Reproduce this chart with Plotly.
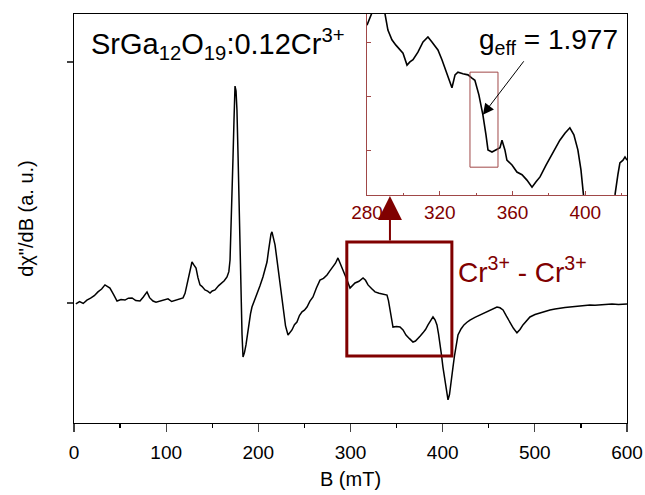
import plotly.graph_objects as go

# ---- main EPR spectrum (B in mT, derivative signal in a.u.) ----
field_mT = [2, 6, 10, 14, 18, 22, 26, 30, 33.6, 36, 39, 43, 46.7, 51, 55.3, 59, 63, 67, 71.6, 75, 79.2, 82,
            85.7, 89, 93.3, 97, 102, 106, 110.7, 114, 118.3, 120.5, 122.6, 125, 128, 130, 132.4, 134.5, 136.7,
            139, 142.1, 145, 147.6, 150, 153, 157, 160.6, 163, 166, 168, 169.3, 170.4, 171.4, 172.5, 173.6,
            174.7, 175.8, 176.8, 178, 179, 180.1, 181.2, 182.3, 183.4, 185, 186.6, 188.3, 189.9, 191.5, 193.1,
            195.8, 198.5, 201.7, 205, 207.2, 209.4, 211, 212.6, 213.7, 214.8, 216.4, 218.1, 220.2, 222.4,
            224.6, 226.8, 229.5, 232.2, 234.3, 236.5, 239.2, 241.9, 244.6, 247.4, 250, 252.8, 256, 259.3,
            263, 266.9, 270.7, 274.5, 277.8, 281, 283.7, 286.4, 288.6, 290.8, 293.5, 296.2, 299.5, 302.2,
            304.9, 309.2, 313.6, 316.3, 319, 322.8, 326.6, 331, 335.3, 337.5, 339.6, 341.2, 342.8, 344.4,
            346.1, 349.9, 353.7, 357, 360.2, 364, 367.8, 370.5, 373.2, 375.9, 378.6, 381.4, 384.1, 386.8,
            389.5, 391.7, 393.8, 395.5, 397.1, 398.7, 400.3, 402, 403.6, 404.7, 405.8, 407.4, 409, 410.1,
            411.2, 412.8, 414.4, 415.5, 416.6, 419.9, 423.1, 426.4, 429.6, 435, 440.5, 445.9, 451.3, 455.1,
            458.9, 462.2, 465.5, 469.2, 473, 476.8, 480.6, 483.9, 487.1, 490.9, 494.7, 500.2, 505.6, 511,
            516.4, 521.9, 527.3, 532.7, 538.1, 543.6, 549, 554.4, 559.8, 565.3, 570.7, 577.2, 583.7, 590.8,
            597.8, 600]
signal = [-0.004, 0.006, -0.002, 0.012, 0.020, 0.030, 0.046, 0.058, 0.075, 0.068, 0.062, 0.035, 0.008, 0.014,
          0.012, 0.020, 0.021, 0.010, 0.008, 0.024, 0.046, 0.022, 0.008, 0.003, 0.008, 0.012, 0.017, 0.006,
          0.012, 0.018, 0.021, 0.040, 0.075, 0.120, 0.170, 0.158, 0.145, 0.105, 0.075, 0.068, 0.054, 0.049,
          0.041, 0.050, 0.054, 0.072, 0.083, 0.092, 0.108, 0.130, 0.178, 0.300, 0.427, 0.600, 0.759, 0.900,
          0.880, 0.801, 0.610, 0.427, 0.200, 0.012, -0.130, -0.224, -0.205, -0.174, -0.125, -0.079, -0.045,
          -0.017, 0.010, 0.033, 0.070, 0.108, 0.140, 0.170, 0.215, 0.261, 0.285, 0.295, 0.272, 0.241, 0.180,
          0.116, 0.040, -0.029, -0.095, -0.133, -0.124, -0.112, -0.090, -0.079, -0.052, -0.037, -0.030,
          -0.017, 0.008, 0.025, 0.062, 0.095, 0.102, 0.116, 0.134, 0.149, 0.165, 0.187, 0.168, 0.145, 0.120,
          0.095, 0.062, 0.074, 0.083, 0.090, 0.104, 0.094, 0.075, 0.060, 0.046, 0.040, 0.037, 0.036, 0.033,
          0.010, -0.029, -0.070, -0.100, -0.098, -0.100, -0.112, -0.133, -0.148, -0.162, -0.158, -0.145,
          -0.136, -0.124, -0.110, -0.091, -0.075, -0.058, -0.070, -0.091, -0.128, -0.166, -0.215, -0.266,
          -0.315, -0.361, -0.385, -0.402, -0.380, -0.340, -0.305, -0.266, -0.220, -0.174, -0.150, -0.133,
          -0.108, -0.091, -0.080, -0.071, -0.060, -0.050, -0.040, -0.029, -0.022, -0.017, -0.020, -0.029,
          -0.055, -0.083, -0.105, -0.124, -0.110, -0.091, -0.072, -0.058, -0.048, -0.041, -0.033, -0.029,
          -0.025, -0.021, -0.019, -0.017, -0.014, -0.012, -0.010, -0.008, -0.009, -0.008, -0.005, -0.004,
          -0.006, -0.004, -0.004]

# ---- inset: zoom of 280-423 mT ----
inset_field_mT = [280, 281.6, 282.7, 284.4, 287.1, 289.9, 291.5, 293.7, 295.9, 298.1, 299.8, 302, 303.6,
                  305.3, 308, 310.8, 313.5, 315.7, 319, 321.2, 324, 326.7, 328.4, 330, 332.7, 335.5, 337.7,
                  339.3, 341.5, 343.7, 345.4, 346.5, 348.7, 350.9, 353.1, 354.2, 355.8, 356.9, 359.7, 362.4,
                  365.2, 367.9, 370.7, 372.9, 375.1, 378.4, 382.2, 386, 388.8, 391.5, 393.7, 395.9, 397.6,
                  398.7, 399.8, 405.3, 410.8, 414.6, 416.3, 417.9, 419, 420.7, 421.8, 422.9]
inset_signal = [3.33, 3.46, 3.57, 3.70, 3.80, 3.54, 3.24, 3.06, 2.96, 2.87, 2.81, 2.59, 2.65, 2.69, 2.83,
                3.02, 3.11, 3.02, 2.87, 2.69, 2.44, 2.17, 2.41, 2.46, 2.43, 2.41, 2.35, 2.31, 2.04, 1.67,
                1.30, 1.02, 0.98, 1.02, 1.06, 1.20, 1.02, 0.83, 0.74, 0.61, 0.56, 0.46, 0.33, 0.43, 0.52,
                0.74, 0.96, 1.20, 1.33, 1.43, 1.30, 1.02, 0.65, 0.22, -0.09, -0.65, -0.46, -0.09, 0.185,
                0.56, 0.78, 0.83, 0.89, 0.83]

main_xticks = [0, 100, 200, 300, 400, 500, 600]
main_yticks = [0, 1]
inset_xticks = [280, 320, 360, 400]
inset_yticks = [1, 2, 3]

dark_red = "#800000"
inset_red = "#a04848"
font_family = "Arial, Liberation Sans, sans-serif"

fig = go.Figure()
fig.add_trace(go.Scatter(x=field_mT, y=signal, mode="lines",
                         line=dict(color="black", width=1.5), showlegend=False, hoverinfo="skip"))
fig.add_trace(go.Scatter(x=inset_field_mT, y=inset_signal, mode="lines", xaxis="x2", yaxis="y2",
                         line=dict(color="black", width=1.6), showlegend=False, hoverinfo="skip"))

fig.update_layout(
    width=645, height=495,
    margin=dict(l=74, r=18, t=14, b=72, autoexpand=False),
    paper_bgcolor="white", plot_bgcolor="white",
    font=dict(family=font_family, color="black"),
    xaxis=dict(range=[0, 600], tickvals=main_xticks, ticks="outside", ticklen=8, tickwidth=1.3,
               showline=True, linecolor="black", linewidth=1.3, mirror=True, automargin=False,
               minor=dict(ticks="outside", ticklen=4, tick0=0, dtick=50, tickcolor="black"),
               showgrid=False, zeroline=False, tickfont=dict(size=19), ticklabelstandoff=4,
               title=dict(text="B (mT)", font=dict(size=20), standoff=10)),
    yaxis=dict(range=[-0.498, 1.199], tickvals=main_yticks, ticks="outside", ticklen=6, tickwidth=1.3,
               showticklabels=False, showline=True, linecolor="black", linewidth=1.3, mirror=True,
               showgrid=False, zeroline=False, automargin=False,
               title=dict(text='dχ"/dB (a. u.)', font=dict(size=20), standoff=27)),
    xaxis2=dict(domain=[0.5298, 1.0], anchor="y2", range=[280, 422.9], tickvals=inset_xticks,
                ticks="inside", ticklen=4, tickcolor=inset_red, showline=True, linecolor=inset_red,
                linewidth=1, mirror=False, showgrid=False, zeroline=False, automargin=False,
                minor=dict(ticks="inside", ticklen=2, tick0=280, dtick=20, tickcolor=inset_red),
                tickfont=dict(size=19, color=dark_red)),
    yaxis2=dict(domain=[0.5575, 1.0], anchor="x2", range=[0.185, 3.537], tickvals=inset_yticks,
                ticks="inside", ticklen=4, tickcolor=inset_red, showticklabels=False, showline=True,
                linecolor=inset_red, linewidth=1, showgrid=False, zeroline=False, automargin=False),
)

# box marking the Cr3+ - Cr3+ region
fig.add_shape(type="rect", xref="x", yref="y", x0=296, x1=410, y0=-0.22, y1=0.253,
              line=dict(color=dark_red, width=3))
# small box in inset
fig.add_shape(type="rect", xref="x2", yref="y2", x0=336.6, x1=352, y0=0.70, y1=2.46,
              line=dict(color=inset_red, width=1))

# arrow from box to inset
fig.add_annotation(xref="x", yref="y", x=342.8, y=0.444, ax=0, ay=46, text="",
                   showarrow=True, arrowhead=2, arrowsize=2.4, arrowwidth=2, arrowcolor=dark_red)

fig.add_annotation(xref="paper", yref="paper", x=(89 - 74) / 553, y=(423 - 44) / 409,
                   xanchor="left", yanchor="middle", showarrow=False,
                   text="SrGa<sub>12</sub>O<sub>19</sub>:0.12Cr<sup>3+</sup>",
                   font=dict(size=29, color="black"))
fig.add_annotation(xref="paper", yref="paper", x=(456 - 74) / 553, y=(423 - 270) / 409,
                   xanchor="left", yanchor="middle", showarrow=False,
                   text="Cr<sup>3+</sup> - Cr<sup>3+</sup>", font=dict(size=28, color=dark_red))
fig.add_annotation(xref="paper", yref="paper", x=(477 - 74) / 553, y=(423 - 42) / 409,
                   xanchor="left", yanchor="middle", showarrow=False,
                   text="g<sub>eff</sub> = 1.977", font=dict(size=28, color="black"))
# g_eff arrow
fig.add_annotation(xref="x2", yref="y2", x=343.7, y=1.67, ax=42, ay=-55, text="",
                   showarrow=True, arrowhead=2, arrowsize=2.2, arrowwidth=1, arrowcolor="black")

fig.write_html("out.html", config={"displayModeBar": False, "staticPlot": True},
               post_script="document.body.style.margin='0px';document.body.style.overflow='hidden';")
